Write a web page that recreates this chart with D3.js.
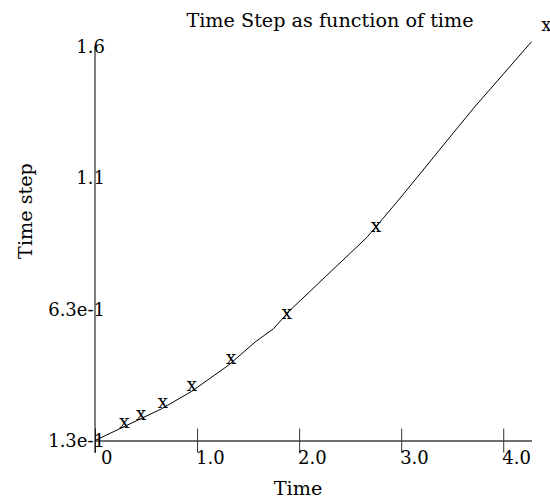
<!DOCTYPE html>
<html>
<head>
<meta charset="utf-8">
<script src="https://cdn.jsdelivr.net/npm/d3@7"></script>
<style>
  html, body { margin: 0; padding: 0; background: #fff; }
  svg { display: block; }
  text { font-family: "DejaVu Serif", serif; fill: #000; }
</style>
</head>
<body>
<svg id="chart" width="550" height="499"></svg>
<script>
// ---- data ----
const titleText = "Time Step as function of time";
const xLabel = "Time";
const yLabel = "Time step";

// solid line series
const lineTime = [0, 0.262, 0.654, 0.948, 1.307, 1.569, 1.748, 1.912, 2.272, 2.664, 2.974, 3.709, 4.277];
const lineStep = [0.13, 0.178, 0.250, 0.316, 0.414, 0.502, 0.552, 0.622, 0.754, 0.897, 1.038, 1.385, 1.636];

// "x" marker series
const markerTime = [0.287, 0.451, 0.664, 0.948, 1.333, 1.879, 2.755, 4.422];
const markerStep = [0.195, 0.225, 0.271, 0.334, 0.436, 0.607, 0.934, 1.696];

// ticks
const xTickValues = [0, 1, 2, 3, 4];
const xTickLabels = ["0", "1.0", "2.0", "3.0", "4.0"];
const yTickValues = [0.13, 0.6267, 1.1233, 1.62];
const yTickLabels = ["1.3e-1", "6.3e-1", "1.1", "1.6"];

// ---- layout ----
const svg = d3.select("#chart");
const tickFont = 18;
const titleFont = 19.2;
const x = d3.scaleLinear().domain([0, d3.max(lineTime)]).range([95, 531.5]);
const y = d3.scaleLinear().domain([d3.min(yTickValues), d3.max(yTickValues)]).range([440.5, 46]);

// title
svg.append("text")
  .attr("x", 330).attr("y", 27)
  .attr("text-anchor", "middle")
  .attr("font-size", titleFont)
  .text(titleText);

// x axis
const xAxis = d3.axisBottom(x)
  .tickValues(xTickValues)
  .tickFormat((d, i) => xTickLabels[i])
  .tickSizeOuter(0)
  .tickSizeInner(24);
const gx = svg.append("g").attr("transform", `translate(0,${y.range()[0]})`).call(xAxis);
gx.select(".domain").attr("stroke", "#707070").attr("stroke-width", 2);
gx.selectAll(".tick line").attr("y1", -12).attr("y2", 12).attr("stroke", "#333");
gx.selectAll(".tick text")
  .attr("font-family", "DejaVu Serif, serif")
  .attr("font-size", tickFont)
  .attr("fill", "#000")
  .attr("text-anchor", "start")
  .attr("dy", null)
  .attr("y", 23)
  .attr("x", d => d === 0 ? 5.5 : -1.5);

// y axis
const yAxis = d3.axisLeft(y)
  .tickValues(yTickValues)
  .tickFormat((d, i) => yTickLabels[i])
  .tickSize(0)
  .tickPadding(0);
const gy = svg.append("g").attr("transform", `translate(${x(0)},0)`).call(yAxis);
gy.select(".domain").remove();
gy.selectAll(".tick text")
  .attr("font-family", "DejaVu Serif, serif")
  .attr("font-size", tickFont)
  .attr("fill", "#000")
  .attr("text-anchor", "end")
  .attr("x", 10)
  .attr("dy", "0.34em");
svg.append("line")
  .attr("x1", x(0)).attr("x2", x(0))
  .attr("y1", y.range()[1]).attr("y2", y.range()[0] + 12.5)
  .attr("stroke", "#000").attr("stroke-width", 1);

// axis titles
svg.append("text")
  .attr("x", 298).attr("y", 495)
  .attr("text-anchor", "middle")
  .attr("font-size", titleFont)
  .text(xLabel);
svg.append("text")
  .attr("transform", "translate(32,211) rotate(-90)")
  .attr("text-anchor", "middle")
  .attr("font-size", titleFont)
  .text(yLabel);

// line
const lineData = lineTime.map((t, i) => [t, lineStep[i]]);
svg.append("path")
  .datum(lineData)
  .attr("fill", "none")
  .attr("stroke", "#000")
  .attr("stroke-width", 1)
  .attr("d", d3.line().x(d => x(d[0])).y(d => y(d[1])));

// markers
const markerData = markerTime.map((t, i) => [t, markerStep[i]]);
svg.append("g").selectAll("text")
  .data(markerData)
  .join("text")
  .attr("x", d => x(d[0]))
  .attr("y", d => y(d[1]))
  .attr("dy", "0.26em")
  .attr("text-anchor", "middle")
  .attr("font-size", tickFont)
  .text("x");
</script>
</body>
</html>
